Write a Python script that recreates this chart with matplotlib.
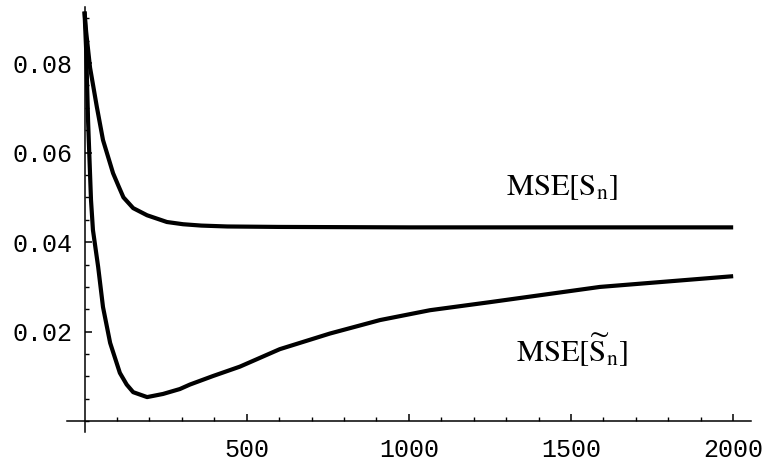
import matplotlib
matplotlib.use('Agg')
import matplotlib.pyplot as plt
from matplotlib.ticker import MultipleLocator, FixedLocator

# MSE[S_n]
n_upper = [0, 5, 17, 38, 57, 88, 105, 120, 150, 193, 254, 304, 360, 440, 600, 1000, 1500, 2000]
mse_upper = [0.0915, 0.087, 0.079, 0.0702, 0.0628, 0.0554, 0.0525, 0.0500, 0.0476, 0.0460,
             0.0445, 0.0440, 0.0437, 0.0435, 0.0434, 0.0433, 0.0433, 0.0433]

# MSE[S~_n]
n_lower = [0, 5, 11, 20, 26, 42, 57, 79, 109, 130, 150, 193, 242, 294, 325, 396, 479,
           602, 757, 911, 1065, 1250, 1589, 2000]
mse_lower = [0.0915, 0.083, 0.067, 0.0494, 0.0427, 0.0345, 0.0255, 0.0175, 0.0108, 0.0082,
             0.0065, 0.0054, 0.0061, 0.0072, 0.0082, 0.0101, 0.0122, 0.0161, 0.0196,
             0.0226, 0.0248, 0.0266, 0.0300, 0.0324]

x_major = [500, 1000, 1500, 2000]
y_major = [0.02, 0.04, 0.06, 0.08]

plt.rcParams['mathtext.fontset'] = 'stix'

fig = plt.figure(figsize=(7.64, 4.67), dpi=100)
ax = fig.add_axes([0.0877, 0.0749, 0.8953, 0.910])

ax.plot(n_upper, mse_upper, color='black', lw=3, solid_capstyle='butt')
ax.plot(n_lower, mse_lower, color='black', lw=3, solid_capstyle='butt')

ax.set_xlim(-54, 2055)
ax.set_ylim(-0.0024, 0.0925)

for s in ['top', 'right']:
    ax.spines[s].set_visible(False)
ax.spines['left'].set_position(('data', 0))
ax.spines['bottom'].set_position(('data', 0))
ax.spines['left'].set_linewidth(1.1)
ax.spines['bottom'].set_linewidth(1.1)

ax.xaxis.set_major_locator(FixedLocator(x_major))
ax.xaxis.set_minor_locator(FixedLocator([v for v in range(100, 2001, 100) if v % 500]))
ax.yaxis.set_major_locator(FixedLocator(y_major))
ax.yaxis.set_minor_locator(MultipleLocator(0.005))
ax.set_xticklabels([str(v) for v in x_major])
ax.set_yticklabels(['%.2f' % v for v in y_major])

ax.tick_params(which='major', direction='in', length=5, width=1.1)
ax.tick_params(which='minor', direction='in', length=3, width=1.0)
ax.tick_params(axis='x', which='major', pad=12)
ax.tick_params(axis='y', which='major', pad=9)
for lab in ax.get_xticklabels() + ax.get_yticklabels():
    lab.set_fontfamily('Liberation Mono')
    lab.set_fontsize(18)

ax.text(1472, 0.0521, r'$\mathrm{MSE}[\mathrm{S}_\mathrm{n}]$', fontsize=22,
        ha='center', va='center')
ax.text(1503, 0.0159, r'$\mathrm{MSE}[\widetilde{\mathrm{S}}_\mathrm{n}]$', fontsize=22,
        ha='center', va='center')

fig.savefig('out.png', dpi=100)
